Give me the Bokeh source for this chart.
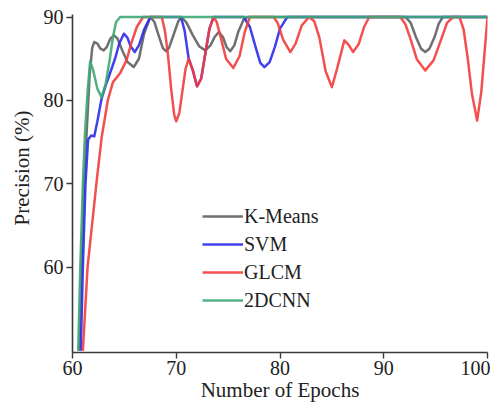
from bokeh.plotting import figure
from bokeh.models import Range1d, Legend, LegendItem, FixedTicker, Title
from bokeh.embed import file_html
from bokeh.resources import INLINE

# ---- data ----
kmeans_x = [60.65, 60.85, 61.1, 61.4, 61.65, 61.9, 62.1, 62.4, 62.7, 63.0, 63.3, 63.65, 64.0, 64.35, 64.8,
            65.3, 65.9, 66.4, 66.9, 67.5, 67.9, 68.3, 68.7, 69.0, 69.3, 69.75, 70.2, 70.5, 71.0, 71.6,
            72.2, 72.8, 73.3, 73.7, 74.1, 74.5, 74.85, 75.2, 75.6, 76.0, 76.5, 76.9, 92.1, 92.6, 93.1,
            93.6, 94.0, 94.4, 94.9, 95.3, 95.7, 100]
kmeans_y = [50, 60, 70, 77, 83, 86.3, 87.0, 86.8, 86.2, 86.0, 86.4, 87.4, 87.8, 87.4, 86.0,
            84.6, 84.0, 85.0, 88.0, 90.0, 89.4, 87.8, 86.3, 85.9, 86.3, 87.9, 89.5, 90.0, 89.3, 87.8,
            86.5, 86.0, 86.6, 87.6, 88.2, 87.6, 86.4, 85.9, 86.6, 88.3, 89.7, 90, 90, 89.3, 87.6,
            86.2, 85.8, 86.2, 87.6, 89.2, 90, 90]

svm_x = [60.8, 61.0, 61.25, 61.5, 61.8, 62.1, 62.4, 62.8, 63.2, 63.6, 64.1, 64.5, 64.95, 65.3, 65.6,
         66.0, 66.4, 66.9, 67.5, 70.45, 70.8, 71.2, 71.6, 72.0, 72.4, 72.8, 73.2, 73.6, 76.5, 77.1,
         77.6, 78.1, 78.5, 79.0, 79.5, 80.0, 80.7, 100]
svm_y = [50, 60, 70, 75.3, 75.8, 75.7, 77.5, 80.2, 81.8, 83.2, 85.0, 86.8, 88.0, 87.5, 86.5,
         85.8, 86.6, 88.5, 90, 90, 88.4, 85.0, 83.6, 81.7, 82.6, 85.6, 88.6, 90, 90, 88.8,
         86.6, 84.5, 84.0, 84.6, 86.4, 88.6, 90, 90]

glcm_x = [61.0, 61.45, 62.3, 62.8, 63.4, 63.9, 64.6, 65.2, 65.7, 66.2, 66.8, 68.6, 68.9, 69.2, 69.5,
          69.8, 70.0, 70.3, 70.6, 70.9, 71.2, 71.6, 72.0, 72.4, 72.8, 73.2, 73.6, 73.9, 74.3, 74.8,
          75.5, 76.1, 76.6, 77.1, 79.4, 79.8, 80.3, 81.0, 81.5, 82.1, 82.8, 83.3, 83.8, 84.4, 85.0,
          85.5, 86.2, 86.6, 87.05, 87.6, 88.1, 88.6, 91.6, 92.1, 92.6, 93.2, 94.0, 94.8, 95.5, 96.1,
          96.7, 97.3, 97.7, 98.1, 98.5, 99.0, 99.4, 99.7, 100]
glcm_y = [50, 60, 70, 75.5, 80.0, 82.2, 83.3, 84.8, 87.0, 88.8, 90, 90, 88.4, 85.5, 81.5,
          78.3, 77.5, 78.5, 81.2, 83.8, 85.0, 83.6, 81.7, 82.6, 85.6, 88.6, 90, 89.4, 87.5, 85.0,
          83.9, 85.3, 88.2, 90, 90, 89.2, 87.3, 85.8, 86.8, 89.0, 90, 89.5, 87.5, 83.5, 81.6,
          83.8, 87.2, 86.7, 85.8, 86.8, 88.8, 90, 90, 89.1, 87.3, 84.9, 83.6, 84.8, 87.2, 89.3,
          90, 90, 88.5, 85.0, 80.8, 77.6, 81.0, 85.5, 90]

cnn_x = [60.55, 60.75, 61.0, 61.2, 61.45, 61.7, 62.0, 62.4, 62.8, 63.2, 63.6, 63.9, 64.2, 64.6, 100]
cnn_y = [50, 60, 70, 76, 81, 84.7, 83.6, 81.4, 80.4, 82.0, 85.0, 87.6, 89.4, 90, 90]

series_names = ["K-Means", "SVM", "GLCM", "2DCNN"]
x_ticks = [60, 70, 80, 90, 100]
y_ticks = [60, 70, 80, 90]

colors = ["#5f5f5f", "#2b2bea", "#f23c3c", "#3fa877"]
FONT = "Liberation Serif"

p = figure(width=490, height=405, output_backend="svg", toolbar_location=None,
           x_range=Range1d(60, 100), y_range=Range1d(49.8, 90.3),
           min_border_left=72, min_border_right=3, min_border_top=14, min_border_bottom=53)
p.outline_line_color = None
p.grid.visible = False
p.background_fill_color = "white"

rends = []
for xs, ys, c in zip([kmeans_x, svm_x, glcm_x, cnn_x], [kmeans_y, svm_y, glcm_y, cnn_y], colors):
    r = p.line(xs, ys, line_color=c, line_width=2.5, line_join="round", line_alpha=0.9)
    rends.append(r)

for ax in (p.xaxis[0], p.yaxis[0]):
    ax.axis_line_color = "#3a3a3a"
    ax.axis_line_width = 1.6
    ax.major_tick_line_color = "#3a3a3a"
    ax.major_tick_line_width = 1.4
    ax.major_tick_out = 6
    ax.major_tick_in = 0
    ax.minor_tick_line_color = None
    ax.major_label_text_font = FONT
    ax.major_label_text_font_size = "20px"
    ax.major_label_text_color = "#222222"
    ax.axis_label_text_font = FONT
    ax.axis_label_text_font_size = "21px"
    ax.axis_label_text_font_style = "normal"
    ax.axis_label_text_color = "#222222"

p.xaxis[0].ticker = FixedTicker(ticks=x_ticks)
p.yaxis[0].ticker = FixedTicker(ticks=y_ticks)
p.xaxis[0].axis_label = "Number of Epochs"
p.xaxis[0].major_label_standoff = 2
p.xaxis[0].axis_label_standoff = 0
p.yaxis[0].major_label_standoff = 3

# y-axis title, placed higher than centre as in the reference
p.add_layout(Title(text="Precision (%)", align="right", offset=96, standoff=14,
                   vertical_align="bottom",
                   text_font=FONT, text_font_size="21px", text_font_style="normal",
                   text_color="#222222"), "left")

legend = Legend(items=[LegendItem(label=n, renderers=[r]) for n, r in zip(series_names, rends)],
                location=(130, 38), padding=0, margin=0, spacing=0,
                glyph_width=41, glyph_height=28, label_height=28, label_standoff=1,
                border_line_alpha=0, background_fill_alpha=0,
                label_text_font=FONT, label_text_font_size="20px", label_text_color="#222222")
p.add_layout(legend)

open("out.html", "w").write(file_html(p, INLINE))
